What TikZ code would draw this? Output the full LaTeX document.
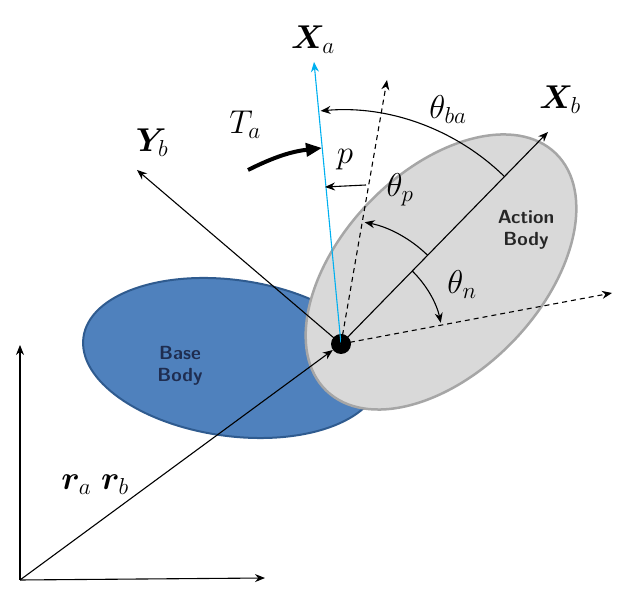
\RequirePackage{fix-cm}
\documentclass[tikz,border=0pt]{standalone}
\usepackage{bm}
\usetikzlibrary{arrows.meta,calc}
\tikzset{
	axis/.style={-{Stealth[length=10pt,width=8pt]},line width=1.1pt},
	dashaxis/.style={axis,dash pattern=on 5pt off 4pt},
	ang/.style={-{Stealth[length=10pt,width=8pt]},line width=1.1pt},
	lab/.style={font=\fontsize{33}{38}\selectfont},
	body/.style={font=\sffamily\bfseries\fontsize{19}{22}\selectfont,align=center}
}
\definecolor{baseFill}{HTML}{4F81BD}
\definecolor{baseLine}{HTML}{2F5B8F}
\definecolor{actFill}{HTML}{D9D9D9}
\definecolor{actLine}{HTML}{A6A6A6}
\definecolor{xaColor}{HTML}{00B0F0}
\definecolor{txtNavy}{HTML}{1F2D50}
\begin{document}
\begin{tikzpicture}[x=1pt,y=1pt]
	\useasboundingbox (0,0) rectangle (626,593);
	% bodies
	\draw[baseLine,fill=baseFill,line width=2pt,rotate around={-8:(232,235)}] (232,235) ellipse (150 and 78);
	\node[body,text=txtNavy] (base) at (180,227) {Base\\Body};
	\draw[actLine,fill=actFill,line width=2.5pt,rotate around={46:(441,321)}] (441,321) ellipse (165 and 100);
	\node[body,text=black!85] (act) at (526,363) {Action\\Body};
	% inertial frame
	\coordinate (org) at (20,13);
	\coordinate (up) at (20,248);
	\coordinate (rt) at (265,15);
	\draw[axis] (org) -- (up);
	\draw[axis] (org) -- (rt);
	\node[circle,fill=black,inner sep=0,minimum size=20pt] (O) at (341,249) {};
	\draw[axis] (org) -- (O);
	% body frames
	\coordinate (Xa) at (314,531);
	\coordinate (Xp) at (387,513);
	\coordinate (Xb) at (548,461);
	\coordinate (Yb) at (137,423);
	\coordinate (Xn) at (612,300);
	\draw[axis,xaColor] (O.center) -- (Xa);
	\draw[dashaxis] (O.center) -- (Xp);
	\draw[axis] (O.center) -- (Xb);
	\draw[axis] (O.center) -- (Yb);
	\draw[dashaxis] (O.center) -- (Xn);
	% angles
	\draw[ang] ($(O.center)+(45.7:234)$) arc (45.7:95:234);
	\draw[ang] ($(O.center)+(45.7:124)$) arc (45.7:79:124);
	\draw[ang] ($(O.center)+(45.7:102)$) arc (45.7:12:102);
	\coordinate (p1) at (366,408);
	\coordinate (p2) at (325,406);
	\draw[ang] (p1) -- (p2);
	\coordinate (t1) at (248,423);
	\coordinate (t2) at (322,445);
	\draw[-{Triangle[length=16pt,width=13pt]},line width=4pt] (t1) to[bend left=10] (t2);
	% labels
	\node[lab] (lXa) at (313,553) {$\bm{X}_a$};
	\node[lab] (lXb) at (560,493) {$\bm{X}_b$};
	\node[lab] (lYb) at (152,450) {$\bm{Y}_b$};
	\node[lab] (lTa) at (245,468) {$T_a$};
	\node[lab] (lp) at (345,433) {$p$};
	\node[lab] (lba) at (448,483) {$\theta_{ba}$};
	\node[lab] (lp2) at (400,403) {$\theta_p$};
	\node[lab] (ln) at (462,308) {$\theta_n$};
	\node[lab] (lr) at (95,108) {$\bm{r}_a\ \bm{r}_b$};
\end{tikzpicture}
\end{document}
